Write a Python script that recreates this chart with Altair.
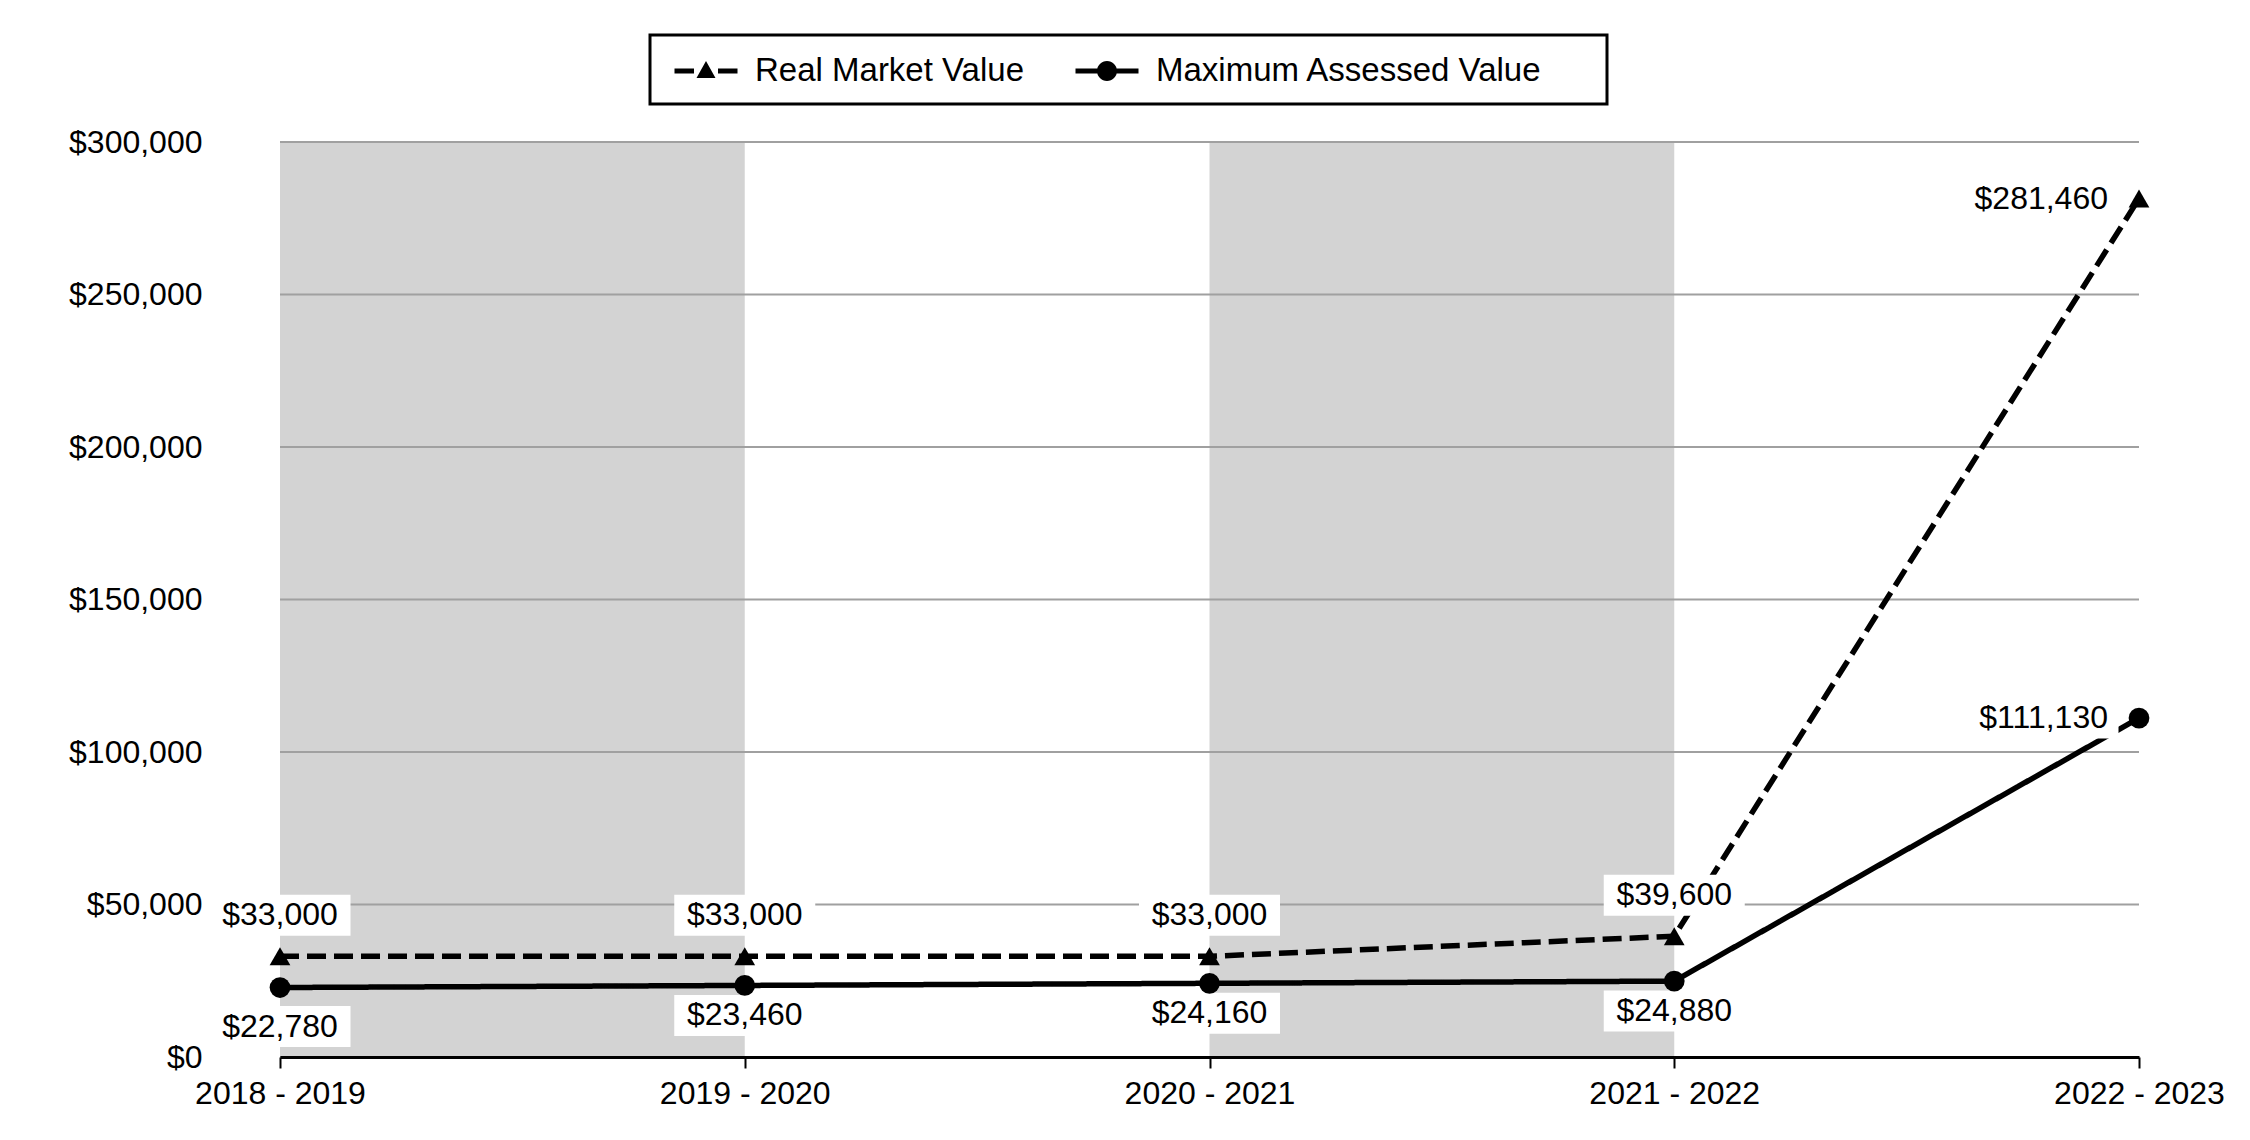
import json
import altair as alt
import pandas as pd

years = ["2018 - 2019", "2019 - 2020", "2020 - 2021", "2021 - 2022", "2022 - 2023"]
real_market = [33000, 33000, 33000, 39600, 281460]
max_assessed = [22780, 23460, 24160, 24880, 111130]
series_names = ["Real Market Value", "Maximum Assessed Value"]
y_ticks = [0, 50000, 100000, 150000, 200000, 250000, 300000]
band_start = [0, 2]
band_end = [1, 3]
y_max = 300000

rows = []
for i, yr in enumerate(years):
    rows.append(dict(idx=i, year=yr, series=series_names[0], value=real_market[i]))
    rows.append(dict(idx=i, year=yr, series=series_names[1], value=max_assessed[i]))
df = pd.DataFrame(rows)
df["label"] = df["value"].map(lambda v: f"${v:,.0f}")
last = len(years) - 1
df["is_last"] = df["idx"] == last

bands = pd.DataFrame({"start": band_start, "end": band_end,
                      "lo": [0] * len(band_start), "hi": [y_max] * len(band_start)})
grid = pd.DataFrame({"tick": y_ticks})

FONT = "Liberation Sans"

x_scale = alt.Scale(domain=[0, last], nice=False, zero=False)
x_axis = alt.Axis(values=list(range(len(years))),
                  labelExpr=f"{json.dumps(years)}[datum.value]",
                  title=None, grid=False, domainColor="black", domainWidth=3,
                  tickColor="black", tickWidth=2, tickSize=11,
                  labelFontSize=32, labelColor="black", labelFont=FONT,
                  labelPadding=10, labelFlush=False, labelOverlap=False,
                  labelBound=False, zindex=1)
y_scale = alt.Scale(domain=[0, y_max], nice=False, zero=True)
y_axis = alt.Axis(values=y_ticks, format="$,.0f", grid=False, domain=False,
                  ticks=False, tickSize=0, labelFontSize=32, labelFont=FONT,
                  labelColor="black", labelPadding=78, title=None)

X = alt.X("idx:Q", scale=x_scale, axis=x_axis)
Y = alt.Y("value:Q", scale=y_scale, axis=y_axis)

band_layer = alt.Chart(bands).mark_rect(color="#d3d3d3").encode(
    x=alt.X("start:Q", scale=x_scale, axis=x_axis),
    x2="end:Q",
    y=alt.Y("lo:Q", scale=y_scale, axis=y_axis),
    y2="hi:Q",
)

grid_layer = alt.Chart(grid).mark_rule(color="#a0a0a0", strokeWidth=2).encode(
    y=alt.Y("tick:Q", scale=y_scale, axis=y_axis)
)

base = alt.Chart(df)

line_layer = base.mark_line(color="black", strokeWidth=5.5).encode(
    x=X, y=Y,
    strokeDash=alt.StrokeDash("series:N",
                              scale=alt.Scale(domain=series_names, range=[[19, 8], [1, 0]]),
                              legend=None),
    order="idx:Q",
)

rmv_mid = "datum.series == '%s' && !datum.is_last" % series_names[0]
mav_mid = "datum.series == '%s' && !datum.is_last" % series_names[1]
is_last = "datum.is_last"

box_rmv = base.transform_filter(rmv_mid).mark_rect(
    color="white", width=141, height=41, yOffset=-41).encode(x=X, y=Y)
box_mav = base.transform_filter(mav_mid).mark_rect(
    color="white", width=141, height=41,
    yOffset={"expr": "datum.idx == 0 ? 39 : 30"}).encode(x=X, y=Y)
box_last = base.transform_filter(is_last).mark_rect(
    color="white", width=153, height=41, xOffset=-97).encode(x=X, y=Y)

point_layer = base.mark_point(filled=True, opacity=1, color="black", size=430).encode(
    x=X, y=Y,
    shape=alt.Shape("series:N",
                    scale=alt.Scale(domain=series_names, range=["triangle-up", "circle"]),
                    legend=None),
)

txt = dict(font=FONT, fontSize=32, color="black", baseline="middle")
text_rmv = base.transform_filter(rmv_mid).mark_text(align="center", dy=-41, **txt).encode(
    x=X, y=Y, text="label:N")
text_mav = base.transform_filter(mav_mid).mark_text(
    align="center", dy={"expr": "datum.idx == 0 ? 39 : 30"}, **txt).encode(
    x=X, y=Y, text="label:N")
text_last = base.transform_filter(is_last).mark_text(align="right", dx=-31, **txt).encode(
    x=X, y=Y, text="label:N")

path_rmv = ("M-1.575,-0.125H-0.6V0.125H-1.575Z "
            "M0,-0.5L0.475,0.35L-0.475,0.35Z "
            "M0.6,-0.125H1.575V0.125H0.6Z")
path_mav = ("M-1.575,-0.125H1.575V0.125H-1.575Z "
            "M-0.5,0A0.5,0.5 0 1,1 0.5,0A0.5,0.5 0 1,1 -0.5,0Z")

# invisible trailing padding glyphs (blank braille cells) to widen the legend frame on the right
BLANK = "\u2800"
legend_label_expr = "indexof(datum.label, '%s') >= 0 ? datum.label + '%s' : datum.label" % (
    series_names[-1].split()[0], BLANK * 2)

legend_layer = base.transform_filter("false").mark_point(
    filled=True, opacity=1, color="black").encode(
    x=X, y=Y,
    shape=alt.Shape("series:N",
                    scale=alt.Scale(domain=series_names, range=[path_rmv, path_mav]),
                    legend=alt.Legend(title=None, orient="none", legendX=370, legendY=-107,
                                      direction="horizontal", strokeColor="black",
                                      padding=16, symbolSize=1600, symbolOffset=20,
                                      labelOffset=29, columnPadding=42, labelLimit=0,
                                      labelExpr=legend_label_expr,
                                      labelFontSize=33, labelFont=FONT, labelColor="black",
                                      symbolStrokeWidth=0, symbolFillColor="black",
                                      symbolOpacity=1)),
)

chart = alt.layer(
    band_layer, grid_layer, line_layer, box_rmv, box_mav, box_last,
    point_layer, text_rmv, text_mav, text_last, legend_layer
).resolve_scale(shape="independent").resolve_legend(shape="independent").properties(
    width=1859, height=915,
    autosize=alt.AutoSizeParams(type="none"),
    padding={"left": 272, "top": 134, "right": 103, "bottom": 75},
).configure_view(stroke=None).configure_legend(strokeWidth=3)

chart.save("out.html", embed_options={"renderer": "svg", "actions": False})
